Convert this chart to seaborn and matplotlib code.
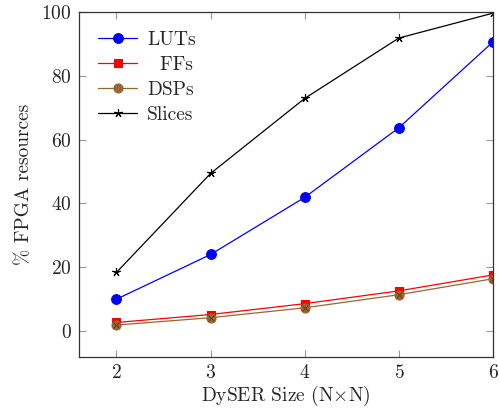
import matplotlib
matplotlib.use("Agg")
import matplotlib.pyplot as plt
import seaborn as sns
import pandas as pd

# values
sizes = [2, 3, 4, 5, 6]
luts = [10.0, 24.0, 41.9, 63.7, 90.6]
ffs = [2.7, 5.2, 8.6, 12.6, 17.6]
dsps = [1.9, 4.2, 7.3, 11.4, 16.4]
slices = [18.4, 49.4, 72.9, 91.8, 99.6]

sns.set_style("ticks")
plt.rcParams["font.family"] = ["cmr10", "DejaVu Serif"]
plt.rcParams["mathtext.fontset"] = "cm"
plt.rcParams["axes.unicode_minus"] = False
plt.rcParams["axes.formatter.use_mathtext"] = True

fig = plt.figure(figsize=(4.99, 4.09), dpi=100)
ax = fig.add_axes([0.158, 0.128, 0.830, 0.843])

brown = (0.6, 0.4, 0.2)
series = [
    ("LUTs", luts, "#0000ff", "o", 7),
    ("  FFs", ffs, "#ff0000", "s", 5.5),
    ("DSPs", dsps, brown, "o", 6.5),
    ("Slices", slices, "black", (5, 2, 0), 6),
]

for name, vals, col, mk, ms in series:
    df = pd.DataFrame({"x": sizes, "y": vals})
    sns.lineplot(data=df, x="x", y="y", ax=ax, color=col, marker=mk,
                 markersize=ms, markeredgecolor=col, linewidth=0.9,
                 label=name, markeredgewidth=0.8)

# cross over the DSP circles (otimes style)
ax.plot(sizes, dsps, linestyle="none", marker="x", markersize=4.5,
        color=(0.4, 0.25, 0.1), markeredgewidth=0.7)

fs = 14
ax.set_xlim(1.6, 6)
ax.set_ylim(-8, 100)
ax.set_xticks(sizes)
ax.set_yticks([0, 20, 40, 60, 80, 100])
ax.tick_params(direction="in", length=5, width=0.8, color="#999999",
               labelsize=fs, top=True, right=True, pad=5)
for sp in ax.spines.values():
    sp.set_color("#333333")
    sp.set_linewidth(0.9)

ax.set_xlabel(r"DySER Size (N$\times$N)", fontsize=fs, labelpad=2)
ax.set_ylabel("% FPGA resources", fontsize=fs, labelpad=6)

ax.legend(loc="upper left", frameon=False, fontsize=fs,
          handlelength=2.0, handletextpad=0.5, labelspacing=0.36,
          borderaxespad=0.6, borderpad=0.4)

fig.savefig("out.png", dpi=100)
